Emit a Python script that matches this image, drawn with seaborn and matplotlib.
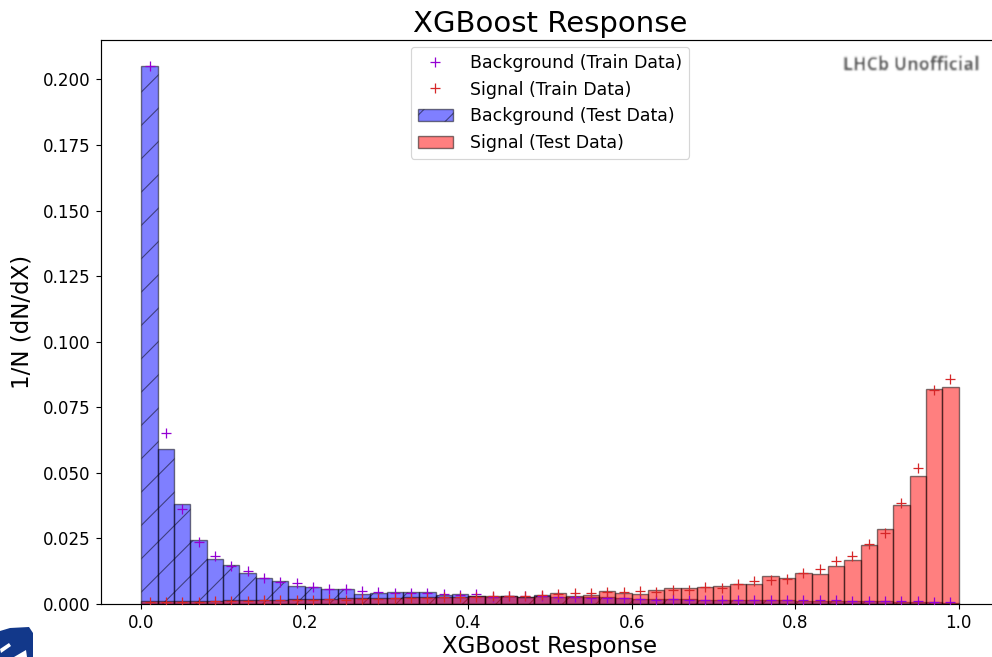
import numpy as np
import pandas as pd
import matplotlib
matplotlib.use("Agg")
import matplotlib.pyplot as plt
import seaborn as sns
from matplotlib.lines import Line2D
from matplotlib.patches import Patch, Polygon

# ---- data: normalised XGBoost response histograms, 50 bins on [0, 1] ----
bin_edges = np.linspace(0.0, 1.0, 51)
bin_centers = 0.5 * (bin_edges[:-1] + bin_edges[1:])

bkg_test = [0.2050, 0.0590, 0.0380, 0.0245, 0.0171, 0.0150, 0.0117, 0.0099, 0.0088, 0.0069,
            0.0065, 0.0056, 0.0056, 0.0040, 0.0042, 0.0044, 0.0044, 0.0044, 0.0035, 0.0039,
            0.0031, 0.0028, 0.0030, 0.0028, 0.0033, 0.0028, 0.0025, 0.0025, 0.0026, 0.0021,
            0.0019, 0.0020, 0.0018, 0.0018, 0.0017, 0.0016, 0.0016, 0.0015, 0.0016, 0.0014,
            0.0013, 0.0013, 0.0012, 0.0012, 0.0011, 0.0010, 0.0009, 0.0008, 0.0006, 0.0005]

bkg_train = [0.2050, 0.0651, 0.0361, 0.0235, 0.0183, 0.0146, 0.0126, 0.0098, 0.0085, 0.0079,
             0.0066, 0.0057, 0.0057, 0.0048, 0.0044, 0.0041, 0.0041, 0.0041, 0.0037, 0.0034,
             0.0038, 0.0028, 0.0030, 0.0029, 0.0030, 0.0026, 0.0025, 0.0024, 0.0022, 0.0021,
             0.0019, 0.0017, 0.0018, 0.0017, 0.0016, 0.0016, 0.0016, 0.0016, 0.0015, 0.0015,
             0.0016, 0.0015, 0.0014, 0.0013, 0.0013, 0.0012, 0.0012, 0.0010, 0.0009, 0.0006]

sig_test = [0.0010, 0.0010, 0.0010, 0.0011, 0.0012, 0.0017, 0.0016, 0.0017, 0.0017, 0.0018,
            0.0020, 0.0020, 0.0021, 0.0021, 0.0022, 0.0022, 0.0025, 0.0025, 0.0027, 0.0026,
            0.0030, 0.0029, 0.0030, 0.0028, 0.0031, 0.0041, 0.0030, 0.0033, 0.0050, 0.0041,
            0.0037, 0.0053, 0.0062, 0.0060, 0.0063, 0.0069, 0.0075, 0.0076, 0.0107, 0.0098,
            0.0120, 0.0114, 0.0145, 0.0168, 0.0225, 0.0286, 0.0377, 0.0488, 0.0818, 0.0827]

sig_train = [0.0008, 0.0009, 0.0008, 0.0009, 0.0010, 0.0012, 0.0013, 0.0014, 0.0015, 0.0016,
             0.0017, 0.0018, 0.0017, 0.0019, 0.0020, 0.0021, 0.0022, 0.0024, 0.0025, 0.0026,
             0.0028, 0.0030, 0.0029, 0.0030, 0.0033, 0.0037, 0.0043, 0.0041, 0.0047, 0.0047,
             0.0050, 0.0047, 0.0053, 0.0053, 0.0066, 0.0062, 0.0075, 0.0089, 0.0091, 0.0097,
             0.0117, 0.0135, 0.0164, 0.0183, 0.0229, 0.0269, 0.0384, 0.0520, 0.0815, 0.0857]

legend_labels = ["Background (Train Data)", "Signal (Train Data)",
                 "Background (Test Data)", "Signal (Test Data)"]

hist_df = pd.DataFrame({"response": bin_centers,
                        "bkg_test": bkg_test, "sig_test": sig_test,
                        "bkg_train": bkg_train, "sig_train": sig_train})

# ---- figure setup ----
DPI = 100
W, H = 992, 657
sns.set_style("ticks")
plt.rcParams["font.family"] = ["DejaVu Sans"]
plt.rcParams["hatch.linewidth"] = 0.8
for key in ("text.color", "axes.labelcolor", "xtick.color", "ytick.color",
            "axes.edgecolor"):
    plt.rcParams[key] = "black"

fig = plt.figure(figsize=(W / DPI, H / DPI), dpi=DPI)
# the axes runs slightly past the right edge of the canvas
ax = fig.add_axes([100.5 / W, 53 / H, 899 / W, 564 / H])

edge = (0, 0, 0, 0.5)

# test samples as filled histograms
sns.histplot(data=hist_df, x="response", weights="bkg_test", bins=list(bin_edges),
             color="blue", alpha=0.5, edgecolor=edge, linewidth=1.0,
             hatch="/", ax=ax)
sns.histplot(data=hist_df, x="response", weights="sig_test", bins=list(bin_edges),
             color="red", alpha=0.5, edgecolor=edge, linewidth=1.0, ax=ax)

# training samples as markers at bin centres
sns.scatterplot(data=hist_df, x="response", y="bkg_train", marker="+",
                color="darkviolet", s=52, linewidth=0.9, ax=ax, zorder=3,
                legend=False)
sns.scatterplot(data=hist_df, x="response", y="sig_train", marker="+",
                color="tab:red", s=52, linewidth=0.9, ax=ax, zorder=3,
                legend=False)

ax.set_xlim(-0.05, 1.05)
ax.set_ylim(0, 0.215)
ax.set_yticks(np.arange(0, 0.2001, 0.025))
ax.set_xticks(np.arange(0, 1.001, 0.2))

ax.set_title("XGBoost Response", fontsize=21, pad=6, color="black")
ax.set_xlabel("XGBoost Response", fontsize=16.5, labelpad=2.5)
ax.set_ylabel("1/N (dN/dX)", fontsize=16.5, labelpad=6.5)
ax.tick_params(labelsize=12.1, length=3.7, width=0.8, pad=3.4,
               colors="black")
for sp in ax.spines.values():
    sp.set_linewidth(0.85)
    sp.set_color("black")

handles = [
    Line2D([], [], marker="+", ls="", color="darkviolet", markersize=7.7, mew=0.9),
    Line2D([], [], marker="+", ls="", color="tab:red", markersize=7.7, mew=0.9),
    Patch(facecolor=(0, 0, 1, 0.5), edgecolor=edge, hatch="/", linewidth=1.0),
    Patch(facecolor=(1, 0, 0, 0.5), edgecolor=edge, linewidth=1.0),
]
leg = ax.legend(handles, legend_labels, loc="upper center", fontsize=12.5,
                frameon=True, borderaxespad=0.4, handletextpad=1.0)
leg.get_frame().set_linewidth(0.85)
for t in leg.get_texts():
    t.set_color("black")


# soft gaussian blur for the watermark label
def gaussian_blur(sigma):
    def _filter(img, dpi):
        pad = int(3 * sigma) + 1
        out = np.pad(img, ((pad, pad), (pad, pad), (0, 0)), mode="constant")
        k = np.arange(-pad, pad + 1)
        kern = np.exp(-0.5 * (k / sigma) ** 2)
        kern /= kern.sum()
        for ch in range(out.shape[2]):
            out[:, :, ch] = np.apply_along_axis(lambda r: np.convolve(r, kern, mode="same"), 0, out[:, :, ch])
            out[:, :, ch] = np.apply_along_axis(lambda r: np.convolve(r, kern, mode="same"), 1, out[:, :, ch])
        return out, -pad, -pad
    return _filter


wm = ax.text(0.902, 0.955, "LHCb Unofficial", transform=ax.transAxes,
             ha="center", va="center", fontsize=12.8, fontweight="bold",
             family=["Open Sans", "DejaVu Sans"], color="#3a3a3a", alpha=0.85)
wm.set_agg_filter(gaussian_blur(1.0))
wm.set_rasterized(True)

# experiment logo corner at bottom left
logo = Polygon([(0 / W, 1 - 631 / H), (10 / W, 1 - 628 / H), (29 / W, 1 - 627 / H),
                (33 / W, 1 - 633 / H), (33 / W, 0.0), (0 / W, 0.0)],
               closed=True, transform=fig.transFigure, facecolor="#12388a",
               edgecolor="none")
fig.patches.append(logo)
notch = Polygon([(0 / W, 1 - 649 / H), (9 / W, 1 - 643 / H), (11 / W, 1 - 646 / H),
                 (1 / W, 1 - 653 / H)],
                closed=True, transform=fig.transFigure, facecolor="white",
                edgecolor="none")
fig.patches.append(notch)
wedge = Polygon([(14 / W, 0.0), (26 / W, 1 - 650 / H), (27 / W, 0.0)],
                closed=True, transform=fig.transFigure, facecolor="white",
                edgecolor="none")
fig.patches.append(wedge)

fig.savefig("out.png", dpi=DPI)
